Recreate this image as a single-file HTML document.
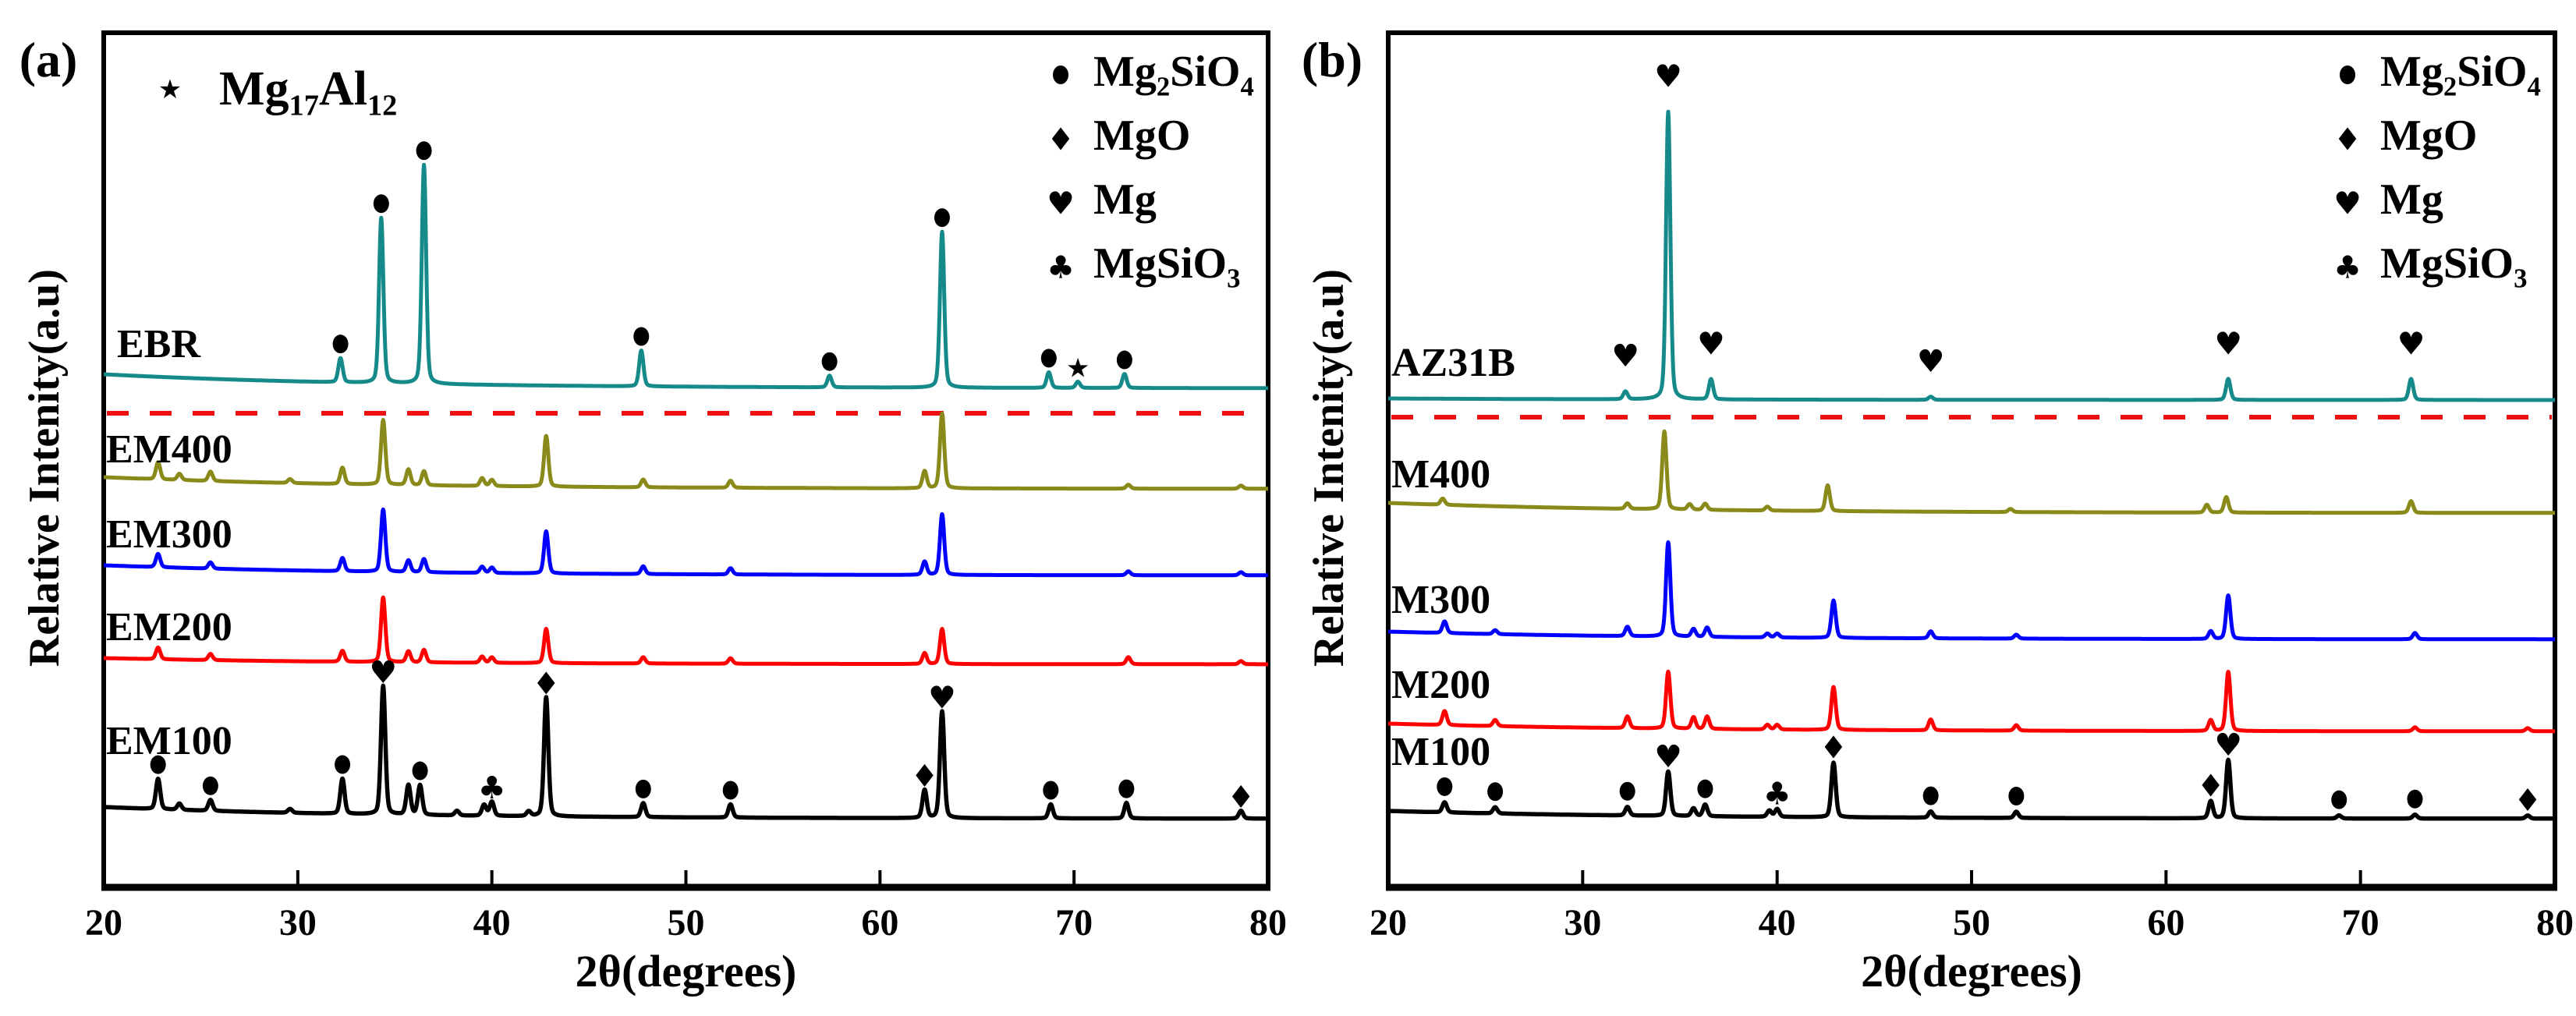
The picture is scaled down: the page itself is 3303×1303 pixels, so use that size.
<!DOCTYPE html>
<html><head><meta charset="utf-8">
<style>
html,body{margin:0;padding:0;background:#fff;}
svg{display:block;}
svg text{font-family:"Liberation Serif","DejaVu Serif",serif;font-weight:bold;fill:#000;}
svg text.g{font-family:"DejaVu Sans",sans-serif;font-weight:normal;}
</style></head>
<body>
<svg id="chart" width="3303" height="1303" viewBox="0 0 3303 1303" xmlns="http://www.w3.org/2000/svg" font-family="Liberation Serif, DejaVu Serif, serif" font-weight="bold">
<g id="layer"></g>
</svg>
<script>
// ---------- data (2θ in degrees, intensities in arbitrary units) ----------
const xTicks = [20, 30, 40, 50, 60, 70, 80];
// Panel (a)
const ebrBase = [658, 640];
const ebrPos = [32.2, 34.3, 36.5, 47.7, 57.4, 63.2, 68.7, 70.2, 72.6];
const ebrInt = [31, 212, 281, 46, 15, 200, 20, 8, 18];
const ebrMarks = ['c','c','c','c','c','c','c','s','c'];
const em400Base = [526, 511];
const em400Pos = [22.8, 23.9, 25.5, 29.6, 32.3, 34.4, 35.7, 36.5, 39.5, 40.0, 42.8, 47.8, 52.3, 62.3, 63.2, 72.8, 78.6];
const em400Int = [22, 8, 12, 5, 21, 83, 20, 18, 10, 8, 65, 10, 9, 22, 96, 5, 4];
const em300Base = [413, 400];
const em300Pos = [22.8, 25.5, 32.3, 34.4, 35.7, 36.5, 39.5, 40.0, 42.8, 47.8, 52.3, 62.3, 63.2, 72.8, 78.6];
const em300Int = [17, 8, 17, 80, 15, 17, 8, 7, 54, 10, 8, 17, 78, 5, 4];
const em200Base = [294, 286];
const em200Pos = [22.8, 25.5, 32.3, 34.4, 35.7, 36.5, 39.5, 40.0, 42.8, 47.8, 52.3, 62.3, 63.2, 72.8, 78.6];
const em200Int = [15, 8, 14, 83, 14, 16, 8, 7, 44, 8, 7, 14, 45, 9, 4];
const em100Base = [103, 88];
const em100Pos = [22.8, 23.9, 25.5, 29.6, 32.3, 34.4, 35.7, 36.3, 38.2, 39.6, 40.0, 41.9, 42.8, 47.8, 52.3, 62.3, 63.2, 68.8, 72.7, 78.6];
const em100Int = [39, 8, 14, 5, 45, 165, 38, 38, 6, 14, 18, 6, 153, 18, 17, 36, 137, 18, 20, 10];
const em100Marks = ['c','','c','','c','h','','c','','','k','','d','c','c','d','h','c','c','d'];
// Panel (b)
const azBase = [627, 625];
const azPos = [32.2, 34.4, 36.6, 47.9, 63.2, 72.6];
const azInt = [10, 369, 26, 4, 27, 27];
const azMarks = ['h','h','h','h','h','h'];
const m400Base = [493, 480];
const m400Pos = [22.8, 32.3, 34.2, 35.5, 36.3, 39.5, 42.6, 52.0, 62.1, 63.1, 72.6];
const m400Int = [8, 7, 100, 7, 8, 5, 33, 4, 10, 20, 15];
const m300Base = [328, 318];
const m300Pos = [22.9, 25.5, 32.3, 34.4, 35.7, 36.4, 39.5, 40.0, 42.9, 47.9, 52.3, 62.3, 63.2, 72.8];
const m300Int = [15, 5, 12, 121, 10, 12, 5, 5, 48, 9, 5, 10, 56, 8];
const m200Base = [210, 200];
const m200Pos = [22.9, 25.5, 32.3, 34.4, 35.7, 36.4, 39.5, 40.0, 42.9, 47.9, 52.3, 62.3, 63.2, 72.8, 78.6];
const m200Int = [18, 8, 15, 73, 15, 16, 6, 6, 55, 14, 7, 14, 76, 5, 4];
const m100Base = [98, 88];
const m100Pos = [22.9, 25.5, 32.3, 34.4, 35.7, 36.3, 39.6, 40.0, 42.9, 47.9, 52.3, 62.3, 63.2, 68.9, 72.8, 78.6];
const m100Int = [13, 8, 11, 57, 10, 15, 8, 10, 70, 8, 8, 22, 75, 4, 5, 4];
const m100Marks = ['c','c','c','h','','c','','k','d','c','c','d','h','c','c','d'];

// ---------- layout ----------
const NS = 'http://www.w3.org/2000/svg';
const SERIF = 'Liberation Serif, DejaVu Serif, serif';
const layer = document.getElementById('layer');
function mk(tag, attrs, parent){ const e = document.createElementNS(NS, tag); for (const k in attrs) e.setAttribute(k, attrs[k]); if (tag === 'text' && !attrs.class) { e.setAttribute('font-family', SERIF); e.setAttribute('font-weight', 'bold'); } (parent||layer).appendChild(e); return e; }

const panels = [
  {id:'a', left:133, right:1626, top:42, bottom:1138, label:'(a)', labelX:62},
  {id:'b', left:1780, right:3276, top:42, bottom:1138, label:'(b)', labelX:1708}
];
function xS(p, v){ return p.left + (v - 20) / 60 * (p.right - p.left); }
function yS(p, v){ return p.bottom - v; }

function profile(x, pos, ints){
  let s = 0;
  for (let i = 0; i < pos.length; i++){
    const d = x - pos[i];
    const g = Math.exp(-d*d/(2*0.11*0.11));
    const l = 1/(1 + (d/0.14)*(d/0.14));
    s += ints[i]*(0.75*g + 0.25*l);
  }
  return s;
}
function baseAt(base, x){ return base[1] + (base[0]-base[1]) * Math.exp(-(x-20)/14); }

function drawSeries(p, name, base, pos, ints, color, w){
  let d = '';
  for (let x = 20; x <= 80.0001; x += 0.02){
    const v = baseAt(base, x) + profile(x, pos, ints);
    d += (d ? 'L' : 'M') + xS(p, x).toFixed(1) + ' ' + yS(p, v).toFixed(1);
  }
  const path = mk('path', {d:d, fill:'none', stroke:color, 'stroke-width':w, 'stroke-linejoin':'round'});
  
  
}

function marker(p, type, x, y, name){
  if (type === 'c'){
    const e = mk('ellipse', {cx:x, cy:y, rx:10, ry:12, fill:'#000'});
    
    
  } else {
    const ch = {d:'\u2666', h:'\u2665', k:'\u2663', s:'\u2605'}[type];
    const size = type === 's' ? 34 : 40;
    const t = mk('text', {x:x, y:y + size*0.36, 'text-anchor':'middle', 'font-size':size, class:'g', 'font-family':'DejaVu Sans, sans-serif'});
    t.textContent = ch;
    
    
  }
}
function drawMarks(p, name, base, pos, ints, marks, gap){
  for (let i = 0; i < pos.length; i++){
    if (!marks[i]) continue;
    const top = baseAt(base, pos[i]) + profile(pos[i], pos, ints);
    marker(p, marks[i], xS(p, pos[i]), yS(p, top) - gap, name + '-marker');
  }
}

function sampleLabel(p, text, x, y, name){
  const t = mk('text', {x:x, y:y, 'font-size':52});
  t.textContent = text;
  
  
}

function chemText(x, y, parts, size, name){
  const t = mk('text', {x:x, y:y, 'font-size':size});
  
  
  parts.forEach(pt => {
    const s = document.createElementNS(NS, 'tspan');
    if (pt[1]) { s.setAttribute('font-size', size*0.62); s.setAttribute('dy', size*0.22); }
    else if (pt[2]) { s.setAttribute('dy', -size*0.22); }
    s.textContent = pt[0];
    t.appendChild(s);
  });
}

function legend(p){
  const mx = p.right - 266, tx = p.right - 224;
  const rows = [
    ['c', [['Mg'],['2',1],['SiO',0,1],['4',1]], 'legend-mg2sio4'],
    ['d', [['MgO']], 'legend-mgo'],
    ['h', [['Mg']], 'legend-mg'],
    ['k', [['MgSiO'],['3',1]], 'legend-mgsio3']
  ];
  rows.forEach((r, i) => {
    const by = 110 + i*82;
    marker(p, r[0], mx, by - 14, r[2] + '-symbol');
    chemText(tx, by, r[1], 56, r[2]);
  });
}

function axes(p){
  const g = mk('g', {});
  
  
  mk('rect', {x:p.left, y:p.top, width:p.right-p.left, height:p.bottom-p.top, fill:'none', stroke:'#000', 'stroke-width':6}, g);
  mk('line', {x1:p.left-3, x2:p.right+3, y1:p.bottom, y2:p.bottom, stroke:'#000', 'stroke-width':9}, g);
  xTicks.forEach(v => {
    const x = xS(p, v);
    if (v > 20 && v < 80){
      const tk = mk('line', {x1:x, x2:x, y1:p.bottom, y2:p.bottom-22, stroke:'#000', 'stroke-width':4}, g);
      
      
    }
    const t = mk('text', {x:x, y:1199, 'text-anchor':'middle', 'font-size':48}, g);
    t.textContent = v;
    
    
  });
  const xt = mk('text', {x:(p.left+p.right)/2, y:1265, 'text-anchor':'middle', 'font-size':58});
  xt.textContent = '2\u03b8(degrees)';
  
  
  const cx = p.left - 58, cy = 600;
  const yt = mk('text', {x:cx, y:cy, 'text-anchor':'middle', 'font-size':56, transform:'rotate(-90 ' + cx + ' ' + cy + ')'});
  yt.textContent = 'Relative Intenity(a.u)';
  
  
  const pl = mk('text', {x:p.labelX, y:98, 'text-anchor':'middle', 'font-size':64});
  pl.textContent = p.label;
  
  
  const dl = mk('line', {x1:p.left+4, x2:p.right-4, y1:p.id==='a'?530:535, y2:p.id==='a'?530:535, stroke:'#ee1111', 'stroke-width':6, 'stroke-dasharray':'28 27'});
  
  
}

const A = panels[0], B = panels[1];
axes(A); axes(B);

drawSeries(A, 'series-ebr', ebrBase, ebrPos, ebrInt, '#168a8a', 5);
drawSeries(A, 'series-em400', em400Base, em400Pos, em400Int, '#8a8a1a', 5);
drawSeries(A, 'series-em300', em300Base, em300Pos, em300Int, '#0000ff', 5);
drawSeries(A, 'series-em200', em200Base, em200Pos, em200Int, '#ff0000', 5);
drawSeries(A, 'series-em100', em100Base, em100Pos, em100Int, '#000000', 5.5);
drawMarks(A, 'ebr', ebrBase, ebrPos, ebrInt, ebrMarks, 18);
drawMarks(A, 'em100', em100Base, em100Pos, em100Int, em100Marks, 18);

drawSeries(B, 'series-az31b', azBase, azPos, azInt, '#168a8a', 5);
drawSeries(B, 'series-m400', m400Base, m400Pos, m400Int, '#8a8a1a', 5);
drawSeries(B, 'series-m300', m300Base, m300Pos, m300Int, '#0000ff', 5);
drawSeries(B, 'series-m200', m200Base, m200Pos, m200Int, '#ff0000', 5);
drawSeries(B, 'series-m100', m100Base, m100Pos, m100Int, '#000000', 5.5);
drawMarks(B, 'az31b', azBase, azPos, azInt, azMarks, 46);
drawMarks(B, 'm100', m100Base, m100Pos, m100Int, m100Marks, 20);

sampleLabel(A, 'EBR', 150, 458, 'label-ebr');
sampleLabel(A, 'EM400', 136, 593, 'label-em400');
sampleLabel(A, 'EM300', 136, 702, 'label-em300');
sampleLabel(A, 'EM200', 136, 821, 'label-em200');
sampleLabel(A, 'EM100', 136, 967, 'label-em100');
sampleLabel(B, 'AZ31B', 1784, 482, 'label-az31b');
sampleLabel(B, 'M400', 1784, 625, 'label-m400');
sampleLabel(B, 'M300', 1784, 786, 'label-m300');
sampleLabel(B, 'M200', 1784, 895, 'label-m200');
sampleLabel(B, 'M100', 1784, 981, 'label-m100');

legend(A); legend(B);
marker(A, 's', 218, 114, 'legend-mg17al12-symbol');
chemText(281, 134, [['Mg'],['17',1],['Al',0,1],['12',1]], 62, 'legend-mg17al12');
</script>
</body></html>
